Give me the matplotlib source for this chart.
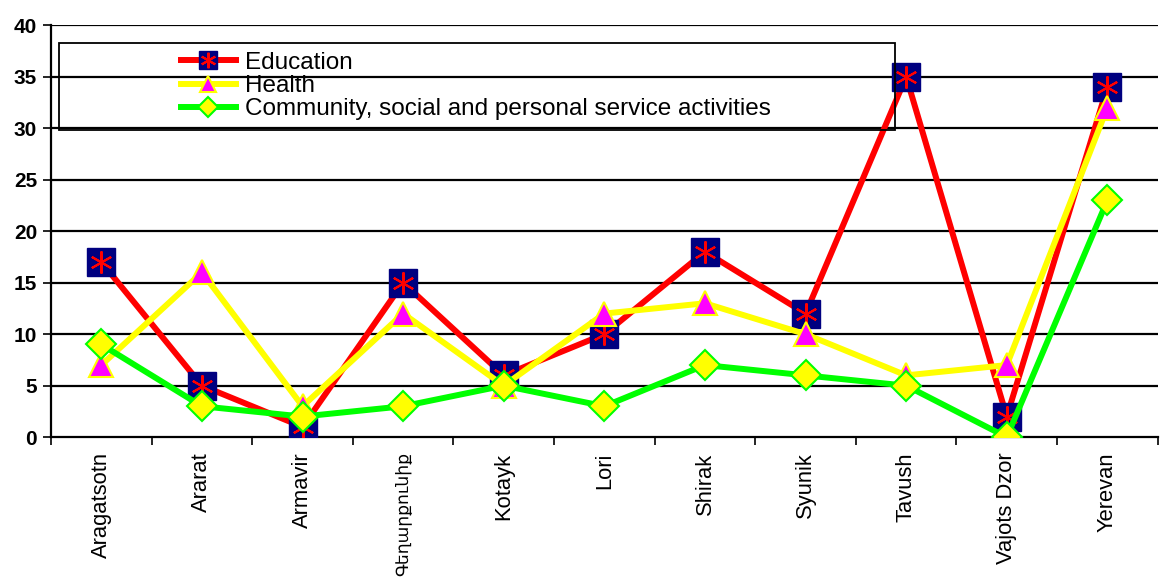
import matplotlib
matplotlib.use("Agg")
from matplotlib import pyplot as plt
from matplotlib.patches import Rectangle
import numpy as np

plt.rcParams['font.family'] = ['Liberation Sans', 'DejaVu Sans']

regions = ['Aragatsotn', 'Ararat', 'Armavir', 'Գեղարքունիք', 'Kotayk', 'Lori',
           'Shirak', 'Syunik', 'Tavush', 'Vajots Dzor', 'Yerevan']
education = [17, 5, 1, 15, 6, 10, 18, 12, 35, 2, 34]
health = [7, 16, 3, 12, 5, 12, 13, 10, 6, 7, 32]
community = [9, 3, 2, 3, 5, 3, 7, 6, 5, 0, 23]

fig = plt.figure(figsize=(11.6, 5.86), dpi=100)
ax = fig.add_axes([0.044, 0.254, 0.954, 0.703])

x = np.arange(len(regions))

# grid lines
for v in range(5, 45, 5):
    ax.axhline(v, color='black', lw=1.6, zorder=1)

edu_line, = ax.plot(x, education, color='#ff0000', lw=4.3, marker='s', ms=19.5,
                    mfc='#000080', mec='#000080', zorder=3)
edu_star, = ax.plot(x, education, ls='none', marker=(6, 2, 0), ms=16,
                    mec='#ff0000', mew=1.5, zorder=4)
hl_line, = ax.plot(x, health, color='#ffff00', lw=4.3, marker='^', ms=17,
                   mfc='#ff00ff', mec='#ffff00', mew=1.5, zorder=5)
com_line, = ax.plot(x, community, color='#00ff00', lw=4.3, marker='D', ms=15,
                    mfc='#ffff00', mec='#00ff00', mew=1.5, zorder=6)

ax.set_xlim(-0.5, len(regions) - 0.5)
ax.set_ylim(0, 40)
ax.set_yticks(range(0, 45, 5))
ax.set_yticklabels([str(v) for v in range(0, 45, 5)], fontsize=15, fontweight='bold')
ax.set_xticks(x)
ax.set_xticklabels(regions, rotation=90, fontsize=15.8)
# armenian label is long, keep it inside the figure
ax.get_xticklabels()[3].set_fontsize(12.3)
ax.tick_params(axis='x', length=0, pad=11)
ax.set_xticks(np.arange(-0.5, len(regions), 1), minor=True)
ax.tick_params(axis='x', which='minor', length=6, width=1.2)
ax.tick_params(axis='y', length=6, width=1.2, pad=4)

for s in ['top', 'right']:
    ax.spines[s].set_visible(False)
for s in ['left', 'bottom']:
    ax.spines[s].set_linewidth(1.6)

# legend box
ax.add_patch(Rectangle((0.007, 0.745), 0.756, 0.211, transform=ax.transAxes,
                       fill=False, ec='black', lw=1.3, zorder=7))
ax.legend([(edu_line, edu_star), hl_line, com_line],
          ['Education', 'Health', 'Community, social and personal service activities'],
          loc='upper left', bbox_to_anchor=(0.117, 0.935), frameon=False,
          fontsize=17.5, handlelength=2.3, handletextpad=0.34, labelspacing=0.05,
          borderaxespad=0, borderpad=0, markerscale=0.7)

fig.savefig('out.png', dpi=100)
